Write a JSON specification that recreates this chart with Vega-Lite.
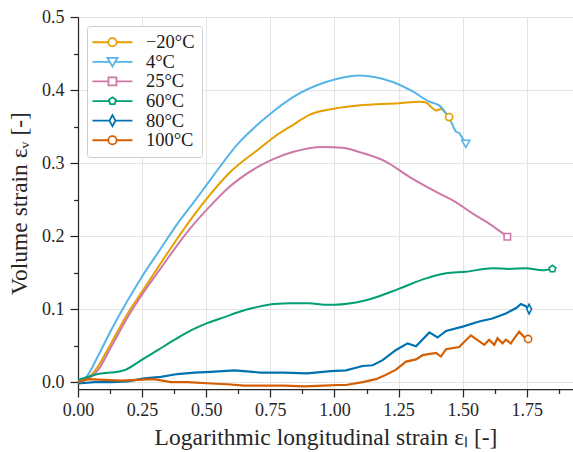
{
  "$schema": "https://vega.github.io/schema/vega-lite/v6.json",
  "width": 495,
  "height": 372,
  "autosize": {"type": "none"},
  "padding": {"left": 78, "top": 17, "right": 0, "bottom": 63},
  "background": "white",
  "config": {
    "view": {"stroke": null},
    "font": "Liberation Serif",
    "axis": {
      "domainColor": "#262626",
      "domainWidth": 1.25,
      "tickColor": "#262626",
      "tickWidth": 1.25,
      "gridColor": "#e4e4e4",
      "gridWidth": 1,
      "labelFont": "Liberation Serif",
      "labelFontSize": 18,
      "labelColor": "#262626",
      "titleFont": "Liberation Serif",
      "titleFontSize": 23.5,
      "titleFontWeight": "normal",
      "titleColor": "#262626",
      "labelOverlap": false,
      "labelFlush": false
    }
  },
  "datasets": {
    "curves": [
      {"series": "−20°C", "x": 0, "y": 0},
      {"series": "−20°C", "x": 0.038, "y": 0.005},
      {"series": "−20°C", "x": 0.077, "y": 0.021},
      {"series": "−20°C", "x": 0.129, "y": 0.053},
      {"series": "−20°C", "x": 0.194, "y": 0.094},
      {"series": "−20°C", "x": 0.258, "y": 0.128},
      {"series": "−20°C", "x": 0.323, "y": 0.163},
      {"series": "−20°C", "x": 0.388, "y": 0.197},
      {"series": "−20°C", "x": 0.453, "y": 0.229},
      {"series": "−20°C", "x": 0.518, "y": 0.258},
      {"series": "−20°C", "x": 0.583, "y": 0.284},
      {"series": "−20°C", "x": 0.708, "y": 0.32},
      {"series": "−20°C", "x": 0.766, "y": 0.336},
      {"series": "−20°C", "x": 0.837, "y": 0.352},
      {"series": "−20°C", "x": 0.902, "y": 0.366},
      {"series": "−20°C", "x": 1.006, "y": 0.375},
      {"series": "−20°C", "x": 1.097, "y": 0.379},
      {"series": "−20°C", "x": 1.252, "y": 0.382},
      {"series": "−20°C", "x": 1.331, "y": 0.384},
      {"series": "−20°C", "x": 1.357, "y": 0.383},
      {"series": "−20°C", "x": 1.376, "y": 0.377},
      {"series": "−20°C", "x": 1.396, "y": 0.372},
      {"series": "−20°C", "x": 1.415, "y": 0.374},
      {"series": "−20°C", "x": 1.435, "y": 0.368},
      {"series": "−20°C", "x": 1.447, "y": 0.363},

      {"series": "4°C", "x": 0, "y": 0},
      {"series": "4°C", "x": 0.038, "y": 0.0096},
      {"series": "4°C", "x": 0.077, "y": 0.035},
      {"series": "4°C", "x": 0.129, "y": 0.071},
      {"series": "4°C", "x": 0.194, "y": 0.112},
      {"series": "4°C", "x": 0.258, "y": 0.149},
      {"series": "4°C", "x": 0.323, "y": 0.183},
      {"series": "4°C", "x": 0.388, "y": 0.217},
      {"series": "4°C", "x": 0.453, "y": 0.247},
      {"series": "4°C", "x": 0.518, "y": 0.278},
      {"series": "4°C", "x": 0.625, "y": 0.327},
      {"series": "4°C", "x": 0.708, "y": 0.355},
      {"series": "4°C", "x": 0.766, "y": 0.372},
      {"series": "4°C", "x": 0.837, "y": 0.39},
      {"series": "4°C", "x": 0.967, "y": 0.411},
      {"series": "4°C", "x": 1.097, "y": 0.42},
      {"series": "4°C", "x": 1.227, "y": 0.411},
      {"series": "4°C", "x": 1.305, "y": 0.398},
      {"series": "4°C", "x": 1.37, "y": 0.384},
      {"series": "4°C", "x": 1.408, "y": 0.379},
      {"series": "4°C", "x": 1.435, "y": 0.368},
      {"series": "4°C", "x": 1.454, "y": 0.357},
      {"series": "4°C", "x": 1.474, "y": 0.343},
      {"series": "4°C", "x": 1.486, "y": 0.341},
      {"series": "4°C", "x": 1.499, "y": 0.334},
      {"series": "4°C", "x": 1.512, "y": 0.327},

      {"series": "25°C", "x": 0, "y": 0},
      {"series": "25°C", "x": 0.038, "y": 0.004},
      {"series": "25°C", "x": 0.077, "y": 0.016},
      {"series": "25°C", "x": 0.129, "y": 0.048},
      {"series": "25°C", "x": 0.194, "y": 0.089},
      {"series": "25°C", "x": 0.258, "y": 0.124},
      {"series": "25°C", "x": 0.323, "y": 0.156},
      {"series": "25°C", "x": 0.388, "y": 0.188},
      {"series": "25°C", "x": 0.453, "y": 0.217},
      {"series": "25°C", "x": 0.518, "y": 0.242},
      {"series": "25°C", "x": 0.583, "y": 0.265},
      {"series": "25°C", "x": 0.708, "y": 0.296},
      {"series": "25°C", "x": 0.766, "y": 0.306},
      {"series": "25°C", "x": 0.837, "y": 0.315},
      {"series": "25°C", "x": 0.954, "y": 0.322},
      {"series": "25°C", "x": 1.032, "y": 0.321},
      {"series": "25°C", "x": 1.097, "y": 0.315},
      {"series": "25°C", "x": 1.2, "y": 0.302},
      {"series": "25°C", "x": 1.292, "y": 0.281},
      {"series": "25°C", "x": 1.421, "y": 0.256},
      {"series": "25°C", "x": 1.461, "y": 0.249},
      {"series": "25°C", "x": 1.538, "y": 0.231},
      {"series": "25°C", "x": 1.603, "y": 0.217},
      {"series": "25°C", "x": 1.674, "y": 0.199},

      {"series": "60°C", "x": 0, "y": 0.003},
      {"series": "60°C", "x": 0.038, "y": 0.007},
      {"series": "60°C", "x": 0.077, "y": 0.011},
      {"series": "60°C", "x": 0.129, "y": 0.013},
      {"series": "60°C", "x": 0.182, "y": 0.0164},
      {"series": "60°C", "x": 0.247, "y": 0.03},
      {"series": "60°C", "x": 0.312, "y": 0.044},
      {"series": "60°C", "x": 0.377, "y": 0.058},
      {"series": "60°C", "x": 0.442, "y": 0.071},
      {"series": "60°C", "x": 0.506, "y": 0.081},
      {"series": "60°C", "x": 0.571, "y": 0.089},
      {"series": "60°C", "x": 0.636, "y": 0.097},
      {"series": "60°C", "x": 0.701, "y": 0.103},
      {"series": "60°C", "x": 0.766, "y": 0.107},
      {"series": "60°C", "x": 0.831, "y": 0.108},
      {"series": "60°C", "x": 0.902, "y": 0.108},
      {"series": "60°C", "x": 0.961, "y": 0.106},
      {"series": "60°C", "x": 1.0, "y": 0.106},
      {"series": "60°C", "x": 1.123, "y": 0.112},
      {"series": "60°C", "x": 1.253, "y": 0.128},
      {"series": "60°C", "x": 1.357, "y": 0.142},
      {"series": "60°C", "x": 1.435, "y": 0.149},
      {"series": "60°C", "x": 1.512, "y": 0.151},
      {"series": "60°C", "x": 1.616, "y": 0.156},
      {"series": "60°C", "x": 1.681, "y": 0.155},
      {"series": "60°C", "x": 1.746, "y": 0.156},
      {"series": "60°C", "x": 1.811, "y": 0.153},
      {"series": "60°C", "x": 1.85, "y": 0.155},

      {"series": "80°C", "x": 0, "y": -0.002},
      {"series": "80°C", "x": 0.064, "y": 0.0},
      {"series": "80°C", "x": 0.129, "y": 0.0},
      {"series": "80°C", "x": 0.194, "y": 0.001},
      {"series": "80°C", "x": 0.258, "y": 0.005},
      {"series": "80°C", "x": 0.323, "y": 0.007},
      {"series": "80°C", "x": 0.388, "y": 0.011},
      {"series": "80°C", "x": 0.453, "y": 0.013},
      {"series": "80°C", "x": 0.518, "y": 0.014},
      {"series": "80°C", "x": 0.609, "y": 0.016},
      {"series": "80°C", "x": 0.713, "y": 0.013},
      {"series": "80°C", "x": 0.804, "y": 0.013},
      {"series": "80°C", "x": 0.894, "y": 0.012},
      {"series": "80°C", "x": 0.985, "y": 0.015},
      {"series": "80°C", "x": 1.045, "y": 0.016},
      {"series": "80°C", "x": 1.11, "y": 0.022},
      {"series": "80°C", "x": 1.149, "y": 0.023},
      {"series": "80°C", "x": 1.188, "y": 0.03},
      {"series": "80°C", "x": 1.24, "y": 0.044},
      {"series": "80°C", "x": 1.285, "y": 0.053},
      {"series": "80°C", "x": 1.318, "y": 0.049},
      {"series": "80°C", "x": 1.37, "y": 0.068},
      {"series": "80°C", "x": 1.402, "y": 0.061},
      {"series": "80°C", "x": 1.435, "y": 0.07},
      {"series": "80°C", "x": 1.5, "y": 0.076},
      {"series": "80°C", "x": 1.564, "y": 0.083},
      {"series": "80°C", "x": 1.616, "y": 0.087},
      {"series": "80°C", "x": 1.668, "y": 0.094},
      {"series": "80°C", "x": 1.707, "y": 0.101},
      {"series": "80°C", "x": 1.727, "y": 0.107},
      {"series": "80°C", "x": 1.746, "y": 0.104},
      {"series": "80°C", "x": 1.759, "y": 0.1},

      {"series": "100°C", "x": 0, "y": 0.0},
      {"series": "100°C", "x": 0.038, "y": 0.004},
      {"series": "100°C", "x": 0.103, "y": 0.003},
      {"series": "100°C", "x": 0.167, "y": 0.002},
      {"series": "100°C", "x": 0.232, "y": 0.003},
      {"series": "100°C", "x": 0.297, "y": 0.004},
      {"series": "100°C", "x": 0.362, "y": 0.0},
      {"series": "100°C", "x": 0.427, "y": 0.0},
      {"series": "100°C", "x": 0.518, "y": -0.002},
      {"series": "100°C", "x": 0.583, "y": -0.003},
      {"series": "100°C", "x": 0.648, "y": -0.005},
      {"series": "100°C", "x": 0.726, "y": -0.005},
      {"series": "100°C", "x": 0.804, "y": -0.005},
      {"series": "100°C", "x": 0.882, "y": -0.006},
      {"series": "100°C", "x": 0.959, "y": -0.005},
      {"series": "100°C", "x": 1.011, "y": -0.004},
      {"series": "100°C", "x": 1.045, "y": -0.004},
      {"series": "100°C", "x": 1.11, "y": 0.0},
      {"series": "100°C", "x": 1.162, "y": 0.004},
      {"series": "100°C", "x": 1.201, "y": 0.01},
      {"series": "100°C", "x": 1.24, "y": 0.017},
      {"series": "100°C", "x": 1.279, "y": 0.028},
      {"series": "100°C", "x": 1.318, "y": 0.031},
      {"series": "100°C", "x": 1.344, "y": 0.037},
      {"series": "100°C", "x": 1.396, "y": 0.04},
      {"series": "100°C", "x": 1.415, "y": 0.035},
      {"series": "100°C", "x": 1.435, "y": 0.045},
      {"series": "100°C", "x": 1.486, "y": 0.048},
      {"series": "100°C", "x": 1.532, "y": 0.064},
      {"series": "100°C", "x": 1.584, "y": 0.051},
      {"series": "100°C", "x": 1.603, "y": 0.058},
      {"series": "100°C", "x": 1.623, "y": 0.051},
      {"series": "100°C", "x": 1.636, "y": 0.06},
      {"series": "100°C", "x": 1.655, "y": 0.053},
      {"series": "100°C", "x": 1.668, "y": 0.058},
      {"series": "100°C", "x": 1.688, "y": 0.053},
      {"series": "100°C", "x": 1.701, "y": 0.06},
      {"series": "100°C", "x": 1.72, "y": 0.069},
      {"series": "100°C", "x": 1.739, "y": 0.062},
      {"series": "100°C", "x": 1.755, "y": 0.059}
    ]
  },
  "data": {"name": "curves"},
  "encoding": {
    "x": {
      "field": "x",
      "type": "quantitative",
      "scale": {"domain": [0, 1.93], "nice": false, "zero": false},
      "axis": {
        "title": "Logarithmic longitudinal strain εₗ [-]",
        "values": [0, 0.125, 0.25, 0.375, 0.5, 0.625, 0.75, 0.875, 1, 1.125, 1.25, 1.375, 1.5, 1.625, 1.75, 1.875],
        "labelExpr": "datum.value % 0.25 === 0 ? format(datum.value, '.2f') : ''",
        "tickSize": {"condition": {"test": "datum.value % 0.25 === 0", "value": 8}, "value": 4.5},
        "gridOpacity": {"condition": {"test": "datum.value % 0.25 === 0", "value": 1}, "value": 0},
        "labelPadding": 4,
        "titlePadding": 6
      }
    },
    "y": {
      "field": "y",
      "type": "quantitative",
      "scale": {"domain": [-0.0095, 0.5], "nice": false, "zero": false},
      "axis": {
        "title": "Volume strain εᵥ [-]",
        "values": [0, 0.05, 0.1, 0.15, 0.2, 0.25, 0.3, 0.35, 0.4, 0.45, 0.5],
        "labelExpr": "abs(datum.value * 10 - round(datum.value * 10)) < 0.001 ? format(datum.value, '.1f') : ''",
        "tickSize": {"condition": {"test": "abs(datum.value * 10 - round(datum.value * 10)) < 0.001", "value": 8}, "value": 4.5},
        "gridOpacity": {"condition": {"test": "abs(datum.value * 10 - round(datum.value * 10)) < 0.001", "value": 1}, "value": 0},
        "labelPadding": 6,
        "titlePadding": 10
      }
    },
    "color": {
      "field": "series",
      "type": "nominal",
      "sort": null,
      "scale": {
        "domain": ["−20°C", "4°C", "25°C", "60°C", "80°C", "100°C"],
        "range": ["#E69F00", "#56B4E9", "#CC79A7", "#009E73", "#0072B2", "#D55E00"]
      },
      "legend": null
    }
  },
  "layer": [
    {
      "transform": [{"filter": {"field": "series", "oneOf": ["−20°C", "4°C", "25°C", "60°C"]}}],
      "mark": {"type": "line", "strokeWidth": 2, "interpolate": "monotone"},
      "encoding": {
        "color": {
          "field": "series",
          "type": "nominal",
          "sort": null,
          "legend": {
            "title": null,
            "orient": "top-left",
            "offset": 9,
            "padding": 7,
            "strokeColor": "#cccccc",
            "fillColor": "white",
            "cornerRadius": 3,
            "labelFont": "Liberation Serif",
            "labelFontSize": 18.5,
            "labelColor": "#1a1a1a",
            "symbolSize": 100,
            "symbolOffset": 9.2,
            "labelOffset": 24.2,
            "rowPadding": 0.6,
            "symbolFillColor": "white",
            "symbolStrokeWidth": 1.8,
            "encode": {
              "symbols": {
                "update": {
                  "shape": {"signal": "datum.value === '4°C' ? 'M-4,0H-0.53M0.53,0H4M-1,-0.8L1,-0.8L0,0.9Z' : datum.value === '25°C' ? 'M-4,0H-0.8M0.8,0H4M-0.8,-0.8H0.8V0.8H-0.8Z' : datum.value === '60°C' ? 'M-4,0H-0.64M0.64,0H4M0,-0.75L0.713,-0.232L0.441,0.607L-0.441,0.607L-0.713,-0.232Z' : datum.value === '80°C' ? 'M-4,0H-0.6M0.6,0H4M0,-1.1L0.6,0L0,1.1L-0.6,0Z' : 'M-4,0H-0.84M0.84,0H4M0.84,0A0.84,0.84,0,1,1,-0.84,0A0.84,0.84,0,1,1,0.84,0Z'"},
                  "fill": {"value": "white"},
                  "strokeWidth": {"value": 1.8}
                }
              }
            }
          }
        }
      }
    },
    {
      "transform": [{"filter": {"field": "series", "oneOf": ["80°C", "100°C"]}}],
      "mark": {"type": "line", "strokeWidth": 2.2, "interpolate": "linear"}
    },
    {
      "transform": [
        {"joinaggregate": [{"op": "max", "field": "x", "as": "xmax"}], "groupby": ["series"]},
        {"filter": "datum.x === datum.xmax"}
      ],
      "mark": {
        "type": "point",
        "filled": false,
        "fill": "white",
        "strokeWidth": 1.6,
        "size": 64,
        "opacity": 1,
        "shape": {"expr": "datum.series === '4°C' ? 'M-1,-0.75L1,-0.75L0,1Z' : datum.series === '25°C' ? 'M-0.8,-0.8H0.8V0.8H-0.8Z' : datum.series === '60°C' ? 'M0,-0.9L0.856,-0.278L0.529,0.728L-0.529,0.728L-0.856,-0.278Z' : datum.series === '80°C' ? 'M0,-1.2L0.6,0L0,1.2L-0.6,0Z' : 'M0.9,0A0.9,0.9,0,1,1,-0.9,0A0.9,0.9,0,1,1,0.9,0Z'"}
      }
    }
  ]
}
